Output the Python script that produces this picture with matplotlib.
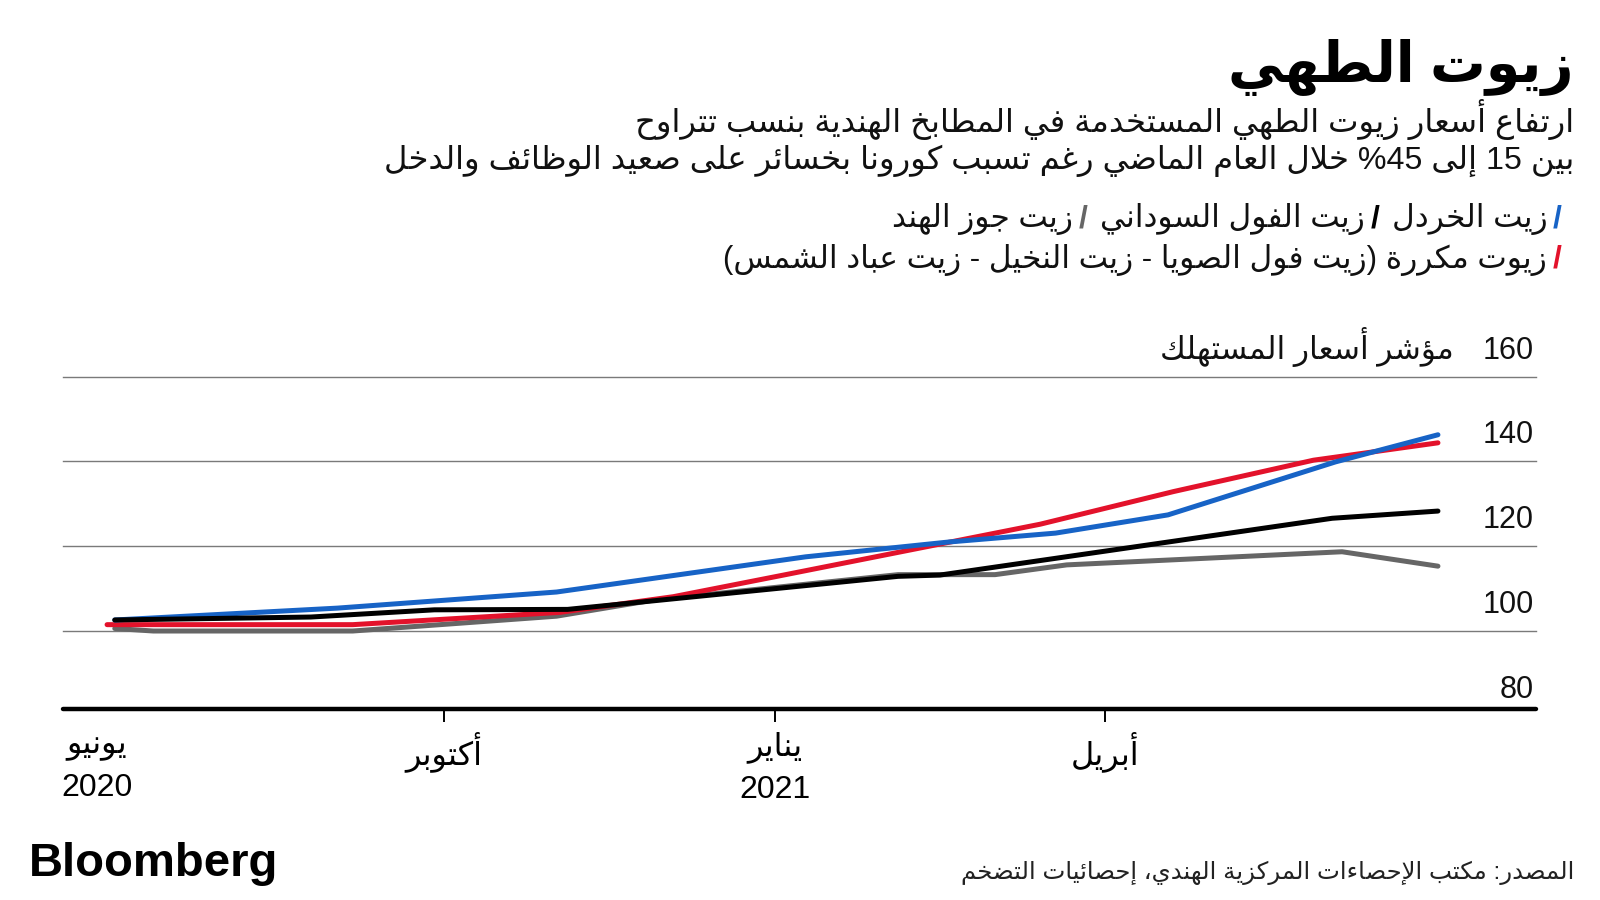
import re
import matplotlib
matplotlib.use("Agg")
import matplotlib.pyplot as plt

plt.rcParams['font.family'] = ['Liberation Sans', 'DejaVu Sans']

# ---- values ----
# x = months counted from the start of June 2020 (Oct = 4, Jan = 7, Apr = 10)
mustard_x = [1.01, 3.03, 5.02, 7.28, 8.58, 9.55, 10.57, 12.09, 13.02]
mustard_y = [102.6, 105.4, 109.2, 117.5, 121.0, 123.1, 127.4, 139.9, 146.3]

groundnut_x = [1.01, 2.79, 3.91, 5.12, 8.12, 8.50, 12.06, 13.02]
groundnut_y = [102.6, 103.3, 105.0, 105.1, 112.9, 113.2, 126.6, 128.3]

coconut_x = [1.01, 1.36, 3.17, 5.02, 5.90, 8.12, 9.00, 9.65, 12.15, 13.02]
coconut_y = [100.6, 100.0, 100.0, 103.5, 107.3, 113.3, 113.3, 115.6, 118.7, 115.3]

refined_x = [0.94, 3.17, 5.05, 6.08, 7.08, 8.07, 9.41, 10.62, 11.89, 13.02]
refined_y = [101.5, 101.5, 104.4, 108.1, 113.2, 118.3, 125.2, 132.9, 140.3, 144.4]

tick_x = [0.85, 4, 7, 10]
tick_labels = ['يونيو\n2020', 'أكتوبر', 'يناير\n2021', 'أبريل']
y_ticks = [80, 100, 120, 140, 160]
y_labels = ['80', '100', '120', '140', '160']

title = 'زيوت الطهي'
subtitle = ['ارتفاع أسعار زيوت الطهي المستخدمة في المطابخ الهندية بنسب تتراوح',
            'بين 15 إلى 45% خلال العام الماضي رغم تسبب كورونا بخسائر على صعيد الوظائف والدخل']
legend_row1 = ['زيت الخردل', 'زيت الفول السوداني', 'زيت جوز الهند']
legend_row2 = ['زيوت مكررة (زيت فول الصويا - زيت النخيل - زيت عباد الشمس)']
y_title = 'مؤشر أسعار المستهلك'
source = 'المصدر: مكتب الإحصاءات المركزية الهندي، إحصائيات التضخم'

BLUE, BLACK, GRAY, RED = '#1763c6', '#000000', '#666666', '#e3122b'

# ---- minimal arabic shaping (matplotlib has no RTL layout) ----
letters = 'ءآأؤإئابةتثجحخدذرزسشصضطظعغفقكلمنهوىي'
nforms = [1, 2, 2, 2, 2, 4, 2, 4, 2] + [4] * 5 + [2] * 4 + [4] * 15 + [2, 2, 4]
FORMS = {}
code = 0xFE80
for ch, n in zip(letters, nforms):
    FORMS[ch] = [code + k for k in range(n)]
    code += n
LAMALEF = {'آ': 0xFEF5, 'أ': 0xFEF7, 'إ': 0xFEF9, 'ا': 0xFEFB}
MIRROR = str.maketrans('()', ')(')


def shape(s):
    out = []
    prev_dual = False
    i = 0
    while i < len(s):
        c = s[i]
        if c not in FORMS:
            out.append(c)
            prev_dual = False
            i += 1
            continue
        nxt = s[i + 1] if i + 1 < len(s) else ''
        if c == 'ل' and nxt in LAMALEF:
            out.append(chr(LAMALEF[nxt] + (1 if prev_dual else 0)))
            prev_dual = False
            i += 2
            continue
        f = FORMS[c]
        join_next = len(f) == 4 and nxt in FORMS and len(FORMS[nxt]) > 1
        if prev_dual and join_next:
            k = 3
        elif prev_dual:
            k = 1 if len(f) > 1 else 0
        elif join_next:
            k = 2
        else:
            k = 0
        out.append(chr(f[k]))
        prev_dual = len(f) == 4
        i += 1
    return ''.join(out)


def ar(s):
    # shape, then put in visual (left-to-right) order, keeping numbers as they are
    lines = []
    for line in s.split('\n'):
        parts = re.split(r'([0-9A-Za-z]+)', shape(line))
        vis = [p if re.fullmatch(r'[0-9A-Za-z]+', p) else p[::-1].translate(MIRROR)
               for p in reversed(parts)]
        lines.append(''.join(vis))
    return '\n'.join(lines)


W, H = 1600, 900
fig = plt.figure(figsize=(16, 9), dpi=100)
fig.patch.set_facecolor('white')

# axes box in pixels: left 63, right 1536, bottom line at y=709, top grid at y=377
ax = fig.add_axes([63 / W, 1 - 709 / H, (1536 - 63) / W, (709 - 376.7) / H])
ax.set_xlim(0.54, 13.91)
ax.set_ylim(81.6, 160)

for v in y_ticks[1:]:
    ax.axhline(v, color='#7a7a7a', lw=1.0, zorder=1, clip_on=False)

ax.plot(coconut_x, coconut_y, color=GRAY, lw=3.6, solid_capstyle='round', zorder=3)
ax.plot(refined_x, refined_y, color=RED, lw=3.6, solid_capstyle='round', zorder=4)
ax.plot(mustard_x, mustard_y, color=BLUE, lw=3.6, solid_capstyle='round', zorder=5)
ax.plot(groundnut_x, groundnut_y, color=BLACK, lw=3.6, solid_capstyle='round', zorder=6)

for s in ['top', 'right', 'left']:
    ax.spines[s].set_visible(False)
ax.spines['bottom'].set_linewidth(3.2)
ax.spines['bottom'].set_capstyle('round')
ax.set_yticks([])
ax.set_xticks(tick_x)
ax.set_xticklabels([ar(t) for t in tick_labels], fontsize=23, linespacing=1.5)
ax.tick_params(axis='x', direction='out', length=9, width=1.4, pad=7)
ax.xaxis.get_major_ticks()[0].tick1line.set_visible(False)

for v, lab in zip(y_ticks, y_labels):
    ax.annotate(lab, xy=(1, v), xycoords=ax.get_yaxis_transform(),
                xytext=(-2, 18), textcoords='offset pixels',
                ha='right', va='baseline', fontsize=22, color='#111111',
                annotation_clip=False)
ax.annotate(ar(y_title), xy=(1, 160), xycoords=ax.get_yaxis_transform(),
            xytext=(-82, 18), textcoords='offset pixels',
            ha='right', va='baseline', fontsize=22.5, color='#111111',
            annotation_clip=False)


def ftext(x, y, s, **kw):
    return fig.text(x / W, 1 - y / H, s, **kw)


ftext(1574, 68, ar(title), ha='right', va='center', fontsize=40, fontweight='bold')
ftext(1574, 120, ar(subtitle[0]), ha='right', va='center', fontsize=23.2, color='#111111')
ftext(1574, 161, ar(subtitle[1]), ha='right', va='center', fontsize=23.2, color='#111111')

renderer = fig.canvas.get_renderer()


def legend_row(y, names, colors):
    x = 1562
    for name, col in zip(names, colors):
        t = ftext(x, y, '/', ha='right', va='center', fontsize=23,
                  fontweight='bold', color=col)
        x -= t.get_window_extent(renderer).width + 6
        t = ftext(x, y, ar(name), ha='right', va='center', fontsize=22.5, color='#111111')
        x -= t.get_window_extent(renderer).width + 12


legend_row(219, legend_row1, [BLUE, BLACK, GRAY])
legend_row(260, legend_row2, [RED])

ftext(29, 864, 'Bloomberg', ha='left', va='center', fontsize=34, fontweight='bold')
ftext(1574, 873, ar(source), ha='right', va='center', fontsize=17.6, color='#222222')

fig.savefig('out.png', dpi=100, facecolor='white')
